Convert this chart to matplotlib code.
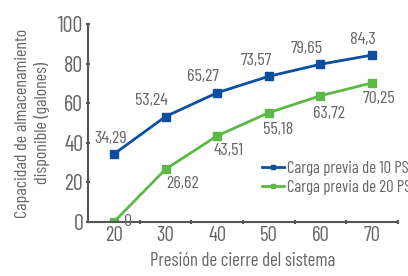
import matplotlib.pyplot as plt

presion = [20, 30, 40, 50, 60, 70]
carga_10 = [34.29, 53.24, 65.27, 73.57, 79.65, 84.3]
carga_20 = [0, 26.62, 43.51, 55.18, 63.72, 70.25]
etiquetas_10 = ['34,29', '53,24', '65,27', '73,57', '79,65', '84,3']
etiquetas_20 = ['0', '26,62', '43,51', '55,18', '63,72', '70,25']

plt.rcParams['font.family'] = ['Barlow Condensed', 'DejaVu Sans']

gris = '#666666'
azul = '#0b4f9e'
verde = '#5cb947'

fig = plt.figure(figsize=(4.08, 2.76), dpi=100)
ax = fig.add_axes([0.216, 0.196, 0.759, 0.717])

x = list(range(len(presion)))
ax.plot(x, carga_10, color=azul, marker='s', markersize=6, linewidth=2,
        label='Carga previa de 10 PSI')
ax.plot(x, carga_20, color=verde, marker='s', markersize=6, linewidth=2,
        label='Carga previa de 20 PSI')

# desplazamientos de las etiquetas en puntos
off_10 = [(-2, 6), (1.5, 6), (1.5, 6), (2, 6), (1.5, 6), (3, 6)]
ha_10 = ['center', 'right', 'right', 'right', 'right', 'right']
for xi, yi, t, o, h in zip(x, carga_10, etiquetas_10, off_10, ha_10):
    ax.annotate(t, (xi, yi), xytext=o, textcoords='offset points',
                ha=h, va='bottom', fontsize=13, color=gris)
off_20 = [(10, 0.5), (12, -5), (8.5, -5.5), (7, -7), (6, -7.5), (5, -5.5)]
for i, (xi, yi, t, o) in enumerate(zip(x, carga_20, etiquetas_20, off_20)):
    ax.annotate(t, (xi, yi), xytext=o, textcoords='offset points',
                ha='center', va='top' if i else 'center', fontsize=13, color=gris)

ax.set_xlim(-0.5, 5.5)
ax.set_ylim(0, 100)
ax.set_xticks(x)
ax.set_xticklabels([str(p) for p in presion])
ax.set_xticks([i + 0.5 for i in x], minor=True)
ax.tick_params(axis='x', which='major', length=0, pad=3, labelsize=15, labelcolor=gris)
ax.tick_params(axis='x', which='minor', length=3, direction='inout', width=1.5, color='#555555')
ax.set_yticks([0, 20, 40, 60, 80, 100])
ax.tick_params(axis='y', length=3, direction='inout', width=1.5, color='#555555',
               labelsize=16, labelcolor=gris, pad=2)

for s in ['top', 'right']:
    ax.spines[s].set_visible(False)
for s in ['left', 'bottom']:
    ax.spines[s].set_color('#555555')
    ax.spines[s].set_linewidth(1.5)

ax.set_xlabel('Presión de cierre del sistema', fontsize=13.5, color=gris, labelpad=5)
ax.set_ylabel('Capacidad de almacenamiento\ndisponible (galones)', fontsize=13,
              color=gris, labelpad=6, linespacing=1.25)

ax.legend(loc='upper left', bbox_to_anchor=(0.561, 0.31), frameon=False, fontsize=12,
          labelcolor=gris, handlelength=1.3, handletextpad=0.2, labelspacing=0.25,
          borderaxespad=0, borderpad=0, markerscale=0.6)

plt.savefig('out.png', dpi=100)
